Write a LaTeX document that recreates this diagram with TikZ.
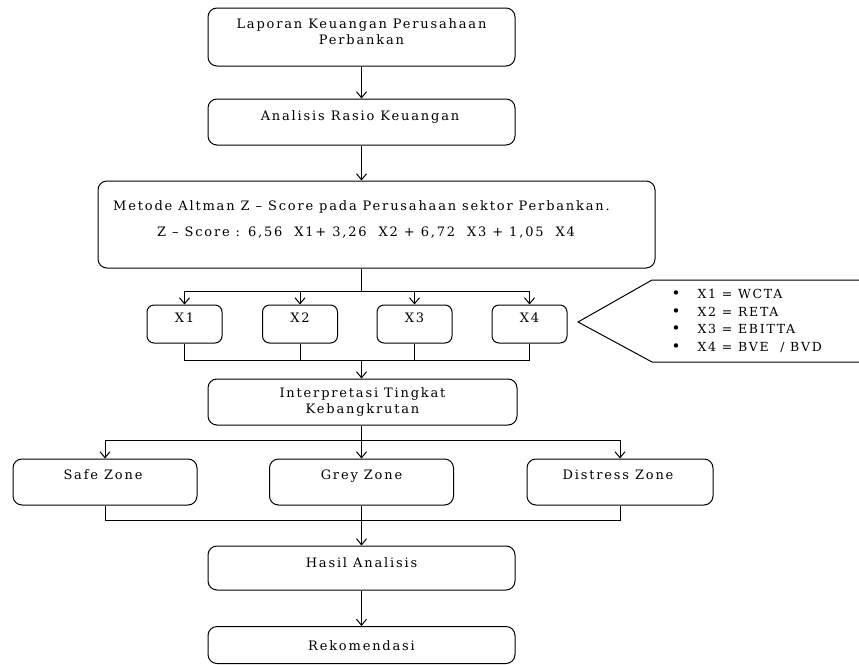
\documentclass[tikz,border=0pt]{standalone}
\usepackage{fontspec}
\setmainfont{DejaVu Serif}[LetterSpace=14]
\usetikzlibrary{arrows.meta}
\begin{document}
\begin{tikzpicture}[x=1pt,y=-1pt,
  line width=1pt,
  box/.style={draw, rounded corners=9pt, inner sep=0pt},
  sbox/.style={draw, rounded corners=7pt, inner sep=0pt, minimum width=75pt, minimum height=38pt},
  txt/.style={inner sep=0pt, anchor=base, font=\fontsize{13}{16}\selectfont},
  mtxt/.style={inner sep=0pt, anchor=north, align=center, font=\fontsize{13}{16}\selectfont},
  arr/.style={-{Straight Barb[length=6pt,width=10pt,line width=1pt]}}]
\useasboundingbox (0,0) rectangle (859,664);

% main chain of boxes
\node[box, minimum width=307pt, minimum height=58pt] (lap) at (361.5,37) {};
\node[mtxt] (laptxt) at (361.5,18.2) {Laporan Keuangan Perusahaan\\Perbankan};

\node[box, minimum width=307pt, minimum height=46pt] (ana) at (361.5,122) {};
\node[txt] (anatxt) at (360,120) {Analisis Rasio Keuangan};

\node[box, minimum width=557pt, minimum height=87pt] (alt) at (376.5,224.5) {};
\node[txt] (alttxt) at (361.5,210) {Metode Altman Z -- Score pada Perusahaan sektor Perbankan.};
\node[txt] (ztxt) at (366,236) {Z -- Score : 6,56\ \ X1+ 3,26\ \ X2 + 6,72\ \ X3 + 1,05\ \ X4};

% ratio boxes
\node[sbox] (x1) at (184.5,324) {};
\node[txt] at (184.5,322) (x1t) {X1};
\node[sbox] (x2) at (300,324) {};
\node[txt] at (300,322) (x2t) {X2};
\node[sbox] (x3) at (414.5,324) {};
\node[txt] at (414.5,322) (x3t) {X3};
\node[sbox] (x4) at (529.5,324) {};
\node[txt] at (529.5,322) (x4t) {X4};

\node[box, minimum width=309pt, minimum height=46pt] (ipr) at (362.5,402) {};
\node[mtxt] (iprtxt) at (362.5,387.3) {Interpretasi Tingkat\\Kebangkrutan};

% zones
\node[box, minimum width=184pt, minimum height=46pt] (safe) at (105,482) {};
\node[txt] (safet) at (103,479) {Safe Zone};
\node[box, minimum width=184pt, minimum height=46pt] (grey) at (361.5,482) {};
\node[txt] (greyt) at (361.5,479) {Grey Zone};
\node[box, minimum width=186pt, minimum height=46pt] (dist) at (620,482) {};
\node[txt] (distt) at (618,479) {Distress Zone};

\node[box, minimum width=307pt, minimum height=44pt] (has) at (361.5,568) {};
\node[txt] (hast) at (361.5,567) {Hasil Analisis};

\node[box, minimum width=307pt, minimum height=37pt] (rek) at (361.5,645) {};
\node[txt] (rekt) at (361.5,650) {Rekomendasi};

% connectors
\draw[arr] (lap) -- (ana);
\draw[arr] (ana.south) -- (ana.south |- alt.north);

\coordinate (s1) at (361.5,291);
\draw (alt.south -| s1) -- (s1);
\draw (x1.north |- s1) -- (x4.north |- s1);
\foreach \n in {x1,x2,x3,x4} \draw[arr] (\n.north |- s1) -- (\n.north);

\coordinate (m1) at (361.5,360);
\draw (x1.south) -- (x1.south |- m1) -- (x4.south |- m1) -- (x4.south);
\draw (x2.south) -- (x2.south |- m1);
\draw (x3.south) -- (x3.south |- m1);
\draw[arr] (m1) -- (m1 |- ipr.north);

\coordinate (s2) at (361.5,440);
\draw (ipr.south -| s2) -- (s2);
\draw (safe.north |- s2) -- (dist.north |- s2);
\foreach \n in {safe,grey,dist} \draw[arr] (\n.north |- s2) -- (\n.north);

\coordinate (m2) at (361.5,520);
\draw (safe.south) -- (safe.south |- m2) -- (dist.south |- m2) -- (dist.south);
\draw (grey.south) -- (grey.south |- m2);
\draw[arr] (m2) -- (has.north);
\draw[arr] (has) -- (rek);

% callout with the ratio definitions
\draw (859,280) -- (652,280) -- (578,322) -- (652,362) -- (859,362);
\node[inner sep=0pt, anchor=north west, align=left, font=\fontsize{12.5}{17.5}\selectfont] (legend) at (671,289)
  {\makebox[26pt][l]{\fontsize{15}{15}\selectfont •}X1 = WCTA\\
   \makebox[26pt][l]{\fontsize{15}{15}\selectfont •}X2 = RETA\\
   \makebox[26pt][l]{\fontsize{15}{15}\selectfont •}X3 = EBITTA\\
   \makebox[26pt][l]{\fontsize{15}{15}\selectfont •}X4 = BVE\ \ / BVD};
\end{tikzpicture}
\end{document}
